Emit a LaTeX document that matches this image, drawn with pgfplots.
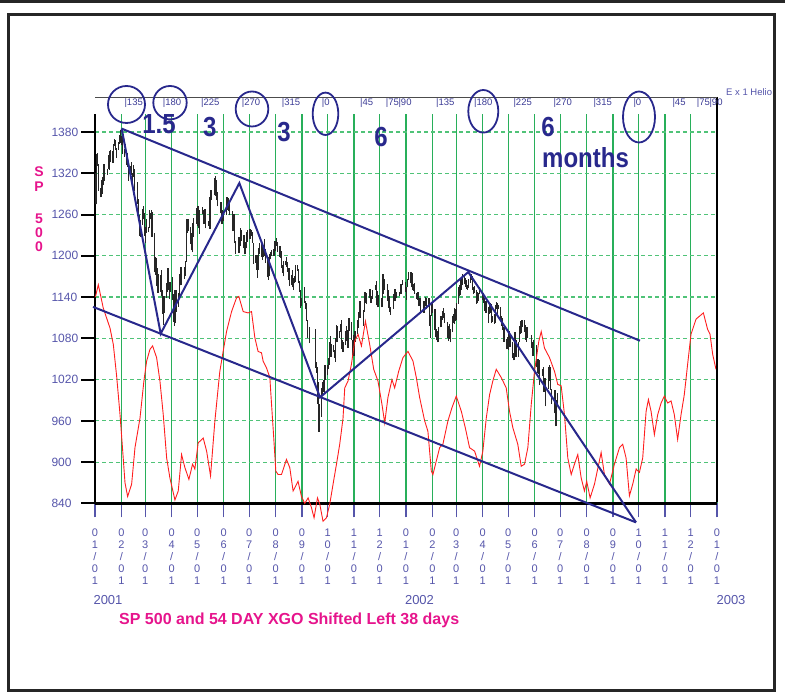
\documentclass[border=0pt]{standalone}
\usepackage{pgfplots}
\usepackage{pgfplotstable}
\usepackage{graphicx}
\usepackage{fontspec}
\setmainfont{Liberation Sans}
\pgfplotsset{compat=1.18}
\definecolor{labblue}{RGB}{85,85,170}
\definecolor{heliblue}{RGB}{60,60,150}
\definecolor{lineblue}{RGB}{40,40,140}
\definecolor{gridgreen}{RGB}{40,175,90}
\definecolor{gridgreen2}{RGB}{80,195,120}
\definecolor{mag}{RGB}{230,20,140}
\definecolor{redline}{RGB}{255,30,30}

\pgfplotstableread{
d lo hi
1 1275 1321
2 1275 1348
3 1331 1350
4 1295 1334
7 1285 1299
8 1295 1311
9 1290 1314
10 1303 1333
11 1309 1333
15 1318 1327
16 1326 1346
17 1325 1352
18 1336 1354
21 1335 1353
22 1339 1363
23 1360 1370
24 1354 1368
25 1342 1357
28 1354 1366
29 1363 1376
30 1364 1383
31 1361 1374
32 1348 1377
35 1344 1355
36 1350 1363
37 1332 1353
38 1329 1350
39 1309 1333
42 1313 1331
43 1317 1336
44 1302 1320
45 1315 1332
46 1294 1326
50 1276 1308
51 1253 1282
52 1229 1260
53 1228 1252
56 1245 1268
57 1253 1272
58 1229 1263
59 1219 1242
60 1233 1253
63 1234 1242
64 1241 1267
65 1253 1263
66 1258 1266
67 1228 1264
70 1176 1233
71 1172 1198
72 1156 1197
73 1166 1183
74 1146 1174
77 1148 1172
78 1141 1180
79 1116 1150
80 1100 1123
81 1117 1141
84 1139 1160
85 1147 1183
86 1151 1182
87 1137 1162
88 1147 1162
91 1136 1169
92 1104 1145
93 1098 1117
94 1103 1151
95 1119 1151
98 1126 1146
99 1137 1173
100 1157 1182
101 1157 1184
105 1167 1184
106 1171 1193
107 1191 1248
108 1233 1253
109 1236 1253
112 1217 1242
113 1208 1233
114 1205 1232
115 1228 1248
116 1234 1255
119 1247 1269
120 1243 1267
121 1257 1272
122 1240 1267
123 1232 1267
126 1261 1271
127 1254 1267
128 1247 1261
129 1254 1268
130 1240 1256
133 1244 1250
134 1245 1257
135 1239 1286
136 1281 1296
137 1281 1292
140 1288 1313
141 1305 1316
142 1287 1310
143 1281 1296
144 1272 1293
148 1262 1278
149 1246 1267
150 1248 1262
151 1250 1265
154 1260 1268
155 1267 1286
156 1270 1284
157 1265 1277
158 1259 1277
161 1252 1265
162 1236 1261
163 1240 1261
164 1218 1241
165 1203 1221
168 1204 1215
169 1207 1227
170 1204 1225
171 1215 1240
172 1222 1238
175 1211 1231
176 1202 1220
177 1206 1220
178 1211 1235
179 1220 1237
182 1224 1239
183 1229 1237
185 1219 1234
186 1188 1219
189 1190 1201
190 1180 1201
191 1168 1184
192 1180 1211
193 1203 1219
196 1198 1219
197 1194 1215
198 1198 1215
199 1200 1225
200 1190 1210
203 1169 1198
204 1165 1190
205 1170 1202
206 1195 1206
207 1200 1209
210 1200 1210
211 1204 1222
212 1207 1222
213 1215 1226
214 1205 1220
217 1198 1214
218 1197 1208
219 1182 1207
220 1175 1186
221 1170 1193
224 1186 1193
225 1184 1198
226 1177 1191
227 1165 1183
228 1156 1182
231 1158 1172
232 1154 1179
233 1150 1168
234 1160 1170
235 1162 1186
238 1178 1187
239 1160 1181
240 1148 1163
241 1124 1150
242 1127 1138
246 1132 1155
247 1122 1135
248 1105 1132
249 1081 1106
252 1073 1096
259 1037 1093
260 1030 1046
261 985 1038
262 984 1017
263 944 985
266 966 1008
267 997 1017
268 1002 1020
269 999 1019
270 1019 1041
273 1026 1041
274 1035 1052
275 1041 1075
276 1067 1084
277 1053 1072
280 1060 1071
281 1052 1063
282 1046 1081
283 1081 1099
284 1074 1098
287 1081 1091
288 1089 1101
289 1075 1107
290 1065 1077
291 1060 1075
294 1070 1090
295 1076 1098
296 1077 1090
297 1066 1092
298 1090 1110
301 1077 1104
302 1054 1078
303 1057 1074
304 1054 1085
305 1075 1090
308 1087 1106
309 1095 1119
310 1111 1121
311 1110 1135
312 1111 1122
315 1098 1121
316 1118 1140
317 1132 1148
318 1134 1146
319 1130 1143
322 1138 1152
323 1140 1152
324 1132 1142
326 1137 1151
329 1150 1158
330 1140 1163
331 1128 1149
332 1125 1140
333 1135 1143
336 1125 1139
337 1126 1145
338 1144 1173
339 1164 1173
340 1151 1167
343 1138 1159
344 1134 1151
345 1124 1142
346 1118 1137
347 1114 1125
350 1123 1137
351 1134 1145
352 1134 1152
353 1138 1152
354 1139 1148
357 1142 1147
359 1144 1159
360 1149 1159
361 1157 1165
364 1148 1162
366 1136 1154
367 1154 1166
368 1165 1177
371 1160 1176
372 1154 1167
373 1150 1175
374 1149 1159
375 1145 1160
378 1137 1146
379 1136 1148
380 1127 1146
381 1127 1139
382 1117 1138
386 1117 1135
387 1117 1131
388 1127 1140
389 1122 1138
392 1127 1138
393 1098 1138
394 1081 1114
395 1113 1131
396 1117 1131
399 1092 1122
400 1082 1100
401 1077 1094
402 1074 1090
403 1075 1097
406 1096 1112
407 1102 1112
408 1107 1120
409 1109 1124
410 1102 1117
414 1081 1104
415 1076 1098
416 1079 1101
417 1074 1094
420 1089 1112
421 1102 1115
422 1101 1124
423 1105 1122
424 1106 1132
427 1130 1155
428 1142 1157
429 1143 1166
430 1150 1168
431 1158 1173
434 1159 1173
435 1155 1168
436 1152 1165
437 1150 1157
438 1153 1167
441 1161 1172
442 1165 1174
443 1151 1170
444 1144 1155
445 1146 1156
448 1130 1151
449 1131 1147
450 1135 1146
451 1144 1154
455 1136 1148
456 1132 1146
457 1120 1138
458 1119 1131
459 1117 1134
462 1102 1126
463 1116 1129
464 1117 1131
465 1102 1130
466 1104 1112
469 1101 1115
470 1102 1129
471 1122 1133
472 1113 1131
473 1122 1129
476 1105 1126
477 1098 1112
478 1092 1109
479 1085 1094
480 1075 1096
483 1064 1079
484 1065 1082
485 1063 1088
486 1079 1091
487 1068 1085
490 1052 1075
491 1048 1059
492 1049 1089
493 1072 1089
494 1053 1077
497 1053 1075
498 1074 1098
499 1087 1105
500 1088 1099
501 1096 1107
504 1089 1106
505 1078 1099
506 1075 1088
507 1080 1097
508 1082 1097
512 1070 1085
513 1066 1075
514 1055 1069
515 1064 1077
518 1038 1070
519 1030 1046
520 1038 1050
521 1028 1049
522 1012 1033
525 1025 1036
526 1012 1039
527 1002 1021
528 1008 1023
529 981 1009
532 1007 1039
533 1032 1041
534 1018 1038
535 1005 1021
536 985 1006
539 971 1003
540 972 1005
541 952 977
542 963 991
543 985 1001
}\spx

\begin{document}
\begin{tikzpicture}[x=1pt,y=1pt]
\useasboundingbox (0,0) rectangle (785,698);
\fill[black!85] (0,695) rectangle (785,698);
\node[anchor=west, inner sep=0pt, font=\fontsize{9.5}{10}\selectfont, text=labblue] at (726,605.5) {E x 1 Helio};
\fill[white] (776,0) rectangle (785,694);

\begin{axis}[
  at={(111.5,283)}, anchor=south west,
  scale only axis, width=622pt, height=389pt,
  xmin=0, xmax=730, ymin=840, ymax=1405.7,
  clip=false,
  axis x line*=bottom, axis y line*=left,
  axis line style={-, line width=2.3pt, black},
  tick align=outside, major tick length=14pt,
  xtick={0,31,59,90,120,151,181,212,243,273,304,334,365,396,424,455,485,516,546,577,608,638,669,699,730},
  xticklabels={{0\\1\\/\\0\\1},{0\\2\\/\\0\\1},{0\\3\\/\\0\\1},{0\\4\\/\\0\\1},{0\\5\\/\\0\\1},{0\\6\\/\\0\\1},{0\\7\\/\\0\\1},{0\\8\\/\\0\\1},{0\\9\\/\\0\\1},{1\\0\\/\\0\\1},{1\\1\\/\\0\\1},{1\\2\\/\\0\\1},
    {0\\1\\/\\0\\1},{0\\2\\/\\0\\1},{0\\3\\/\\0\\1},{0\\4\\/\\0\\1},{0\\5\\/\\0\\1},{0\\6\\/\\0\\1},{0\\7\\/\\0\\1},{0\\8\\/\\0\\1},{0\\9\\/\\0\\1},{1\\0\\/\\0\\1},{1\\1\\/\\0\\1},{1\\2\\/\\0\\1},{0\\1\\/\\0\\1}},
  xticklabel style={align=center, font=\fontsize{11}{12}\selectfont, text=labblue, yshift=-8pt},
  xtick style={draw=labblue, line width=1.2pt},
  ytick={840,900,960,1020,1080,1140,1200,1260,1320,1380},
  /pgf/number format/1000 sep={},
  /pgf/number format/assume math mode=true,
  yticklabel style={font=\fontsize{12}{12}\selectfont, text=labblue, anchor=west, xshift=-33pt},
  ytick style={draw=black, line width=2pt},
  xmajorgrids, ymajorgrids,
  x grid style={gridgreen, line width=1.2pt},
  y grid style={gridgreen2, line width=1.2pt, dash pattern=on 4pt off 3pt},
]
\addplot[draw=none, mark=none, forget plot,
  error bars/.cd, y dir=plus, y explicit, error mark=none,
  error bar style={draw=black!85, line width=1.25pt}]
  table[x=d, y=lo, y error expr=\thisrow{hi}-\thisrow{lo}] {\spx};

\addplot[redline, line width=0.9pt, mark=none] coordinates {
(0.5,1140) (1.2,1144) (3.9,1158) (9.7,1124) (17.6,1095) (21.5,1071) (25.4,1025) (29.3,970) (32.0,925) (35.2,870) (38.3,850)
(43.0,868) (46.9,921) (52.8,964) (57.4,1018) (60.6,1047) (64.5,1064) (67.6,1069) (72.3,1052) (76.2,1018) (80.1,969)
(84.1,906) (87.9,877) (93.8,845) (97.7,858) (101.6,911) (105.5,892) (110.2,875) (114.5,897) (117.2,890) (121.1,928)
(127.0,935) (131.0,916) (135.6,880) (140.7,960) (146.5,1032) (150.4,1061) (154.4,1090) (160.3,1119) (166.1,1139) (168.8,1141)
(173.9,1119) (179.7,1117) (183.7,1119) (187.6,1081) (191.4,1061) (195.4,1059) (197.3,1047) (201.3,1037) (205.2,1023) (207.2,984)
(209.8,935) (212.2,887) (214.9,882) (218.9,882) (224.7,904) (228.6,892) (232.5,858) (238.3,872) (242.3,850) (246.2,840)
(250.1,848) (254.0,834) (257.1,819) (261.1,848) (263.8,839) (267.6,814) (271.6,819) (275.5,839) (279.4,868) (283.4,897)
(287.2,926) (291.1,964) (293.1,1008) (297.0,1018) (300.9,1042) (304.8,1076) (308.7,1086) (312.7,1069) (317.4,1105) (322.4,1071)
(327.1,1035) (332.1,1018) (336.8,984) (340.0,957) (343.8,994) (348.5,1020) (351.7,1008) (356.4,1032) (361.4,1052) (367.3,1061)
(373.2,1047) (377.1,1023) (381.0,994) (386.9,960) (390.7,945) (394.7,887) (396.6,882) (400.6,902) (404.5,921) (408.3,926)
(414.2,960) (418.9,979) (424.0,996) (429.9,974) (434.6,950) (439.6,921) (445.5,916) (451.3,894) (455.2,916) (459.2,964)
(463.1,998) (466.9,1018) (470.9,1035) (476.8,1023) (482.6,1008) (486.5,974) (490.4,950) (496.2,926) (500.2,894) (504.1,897)
(508.0,921) (512.0,984) (515.8,1032) (520.9,1076) (523.7,1090) (527.5,1066) (533.4,1052) (539.3,1032) (543.1,1013) (547.1,1011)
(551.0,969) (554.9,906) (558.9,882) (562.7,897) (566.6,911) (570.6,877) (574.4,858) (577.1,872) (581.1,848) (586.2,868)
(592.0,902) (594.0,914) (597.9,882) (603.8,868) (609.6,897) (615.5,921) (619.3,926) (623.3,906) (627.2,851) (631.1,868)
(635.1,890) (638.9,885) (642.8,906) (646.8,974) (649.5,991) (652.6,974) (656.5,940) (660.4,969) (664.4,986) (668.2,996)
(672.1,986) (676.1,989) (679.9,969) (683.8,933) (687.8,969) (691.6,998) (695.5,1042) (699.5,1086) (705.4,1108) (714.0,1117)
(719.0,1093) (721.8,1086) (724.9,1057) (728.8,1035)
};

\addplot[lineblue, line width=2pt, mark=none] coordinates {(31.3,1385) (639.6,1076.6)};
\addplot[lineblue, line width=2pt, mark=none] coordinates {(-2.3,1125.8) (634.9,812.4)};
\addplot[lineblue, line width=2pt, mark=none] coordinates {(31.3,1385) (77.1,1086.8) (169.4,1305.8) (264.1,994.2) (438.1,1176.4) (634.9,812.4)};
\end{axis}

\draw[line width=2.3pt, black] (717,601) -- (717,196);
\draw[line width=1.2pt, black!70] (95,600.5) -- (717,600.5);

\begin{scope}[every node/.style={anchor=west, inner sep=0pt, font=\fontsize{9.5}{10}\selectfont, text=heliblue}]
\node at (124.3,594.5) {|135};
\node at (162.7,594.5) {|180};
\node at (201,594.5) {|225};
\node at (241.7,594.5) {|270};
\node at (281.7,594.5) {|315};
\node at (321.7,594.5) {|0};
\node at (360,594.5) {|45};
\node at (385.7,594.5) {|75};
\node at (398.3,594.5) {|90};
\node at (436,594.5) {|135};
\node at (474,594.5) {|180};
\node at (513.3,594.5) {|225};
\node at (553.3,594.5) {|270};
\node at (593.3,594.5) {|315};
\node at (633.3,594.5) {|0};
\node at (672.3,594.5) {|45};
\node at (696.7,594.5) {|75};
\node at (709.3,594.5) {|90};
\end{scope}

\begin{scope}[lineblue, line width=1.8pt]
\draw (126.5,593.5) ellipse (18.5 and 18.5);
\draw (170,595.3) ellipse (16.7 and 16.7);
\draw (252,589) ellipse (16.3 and 17.5);
\draw (325.5,584.2) ellipse (12.8 and 21.2);
\draw (483.3,586.7) ellipse (15 and 21.3);
\draw (639,581) ellipse (16 and 25.5);
\end{scope}

\begin{scope}[every node/.style={inner sep=0pt, font=\fontsize{24}{24}\selectfont\bfseries, text=lineblue}]
\node at (159,574) {\scalebox{1}[1.15]{1.5}};
\node at (209.7,571) {\scalebox{1}[1.15]{3}};
\node at (284,566.3) {\scalebox{1}[1.15]{3}};
\node at (381,561) {\scalebox{1}[1.15]{6}};
\node at (548,571) {\scalebox{1}[1.15]{6}};
\node[anchor=west] at (542,540) {\scalebox{1}[1.15]{months}};
\end{scope}

\begin{scope}[every node/.style={inner sep=0pt, font=\fontsize{14}{14}\selectfont\bfseries, text=mag}]
\node at (39,526.3) {S};
\node at (39,511) {P};
\node at (39,479.5) {5};
\node at (39,465.5) {0};
\node at (39,451) {0};
\end{scope}

\node[inner sep=0pt, font=\fontsize{13}{13}\selectfont, text=labblue] at (108,98) {2001};
\node[inner sep=0pt, font=\fontsize{13}{13}\selectfont, text=labblue] at (419.5,98) {2002};
\node[inner sep=0pt, font=\fontsize{13}{13}\selectfont, text=labblue] at (731,98) {2003};

\node[anchor=base west, inner sep=0pt, font=\fontsize{16}{16}\selectfont\bfseries, text=mag] at (119,73) {SP 500 and 54 DAY XGO Shifted Left 38 days};

\draw[line width=2.7pt, black!85] (8.7,7.3) rectangle (774.3,683.3);
\end{tikzpicture}
\end{document}
